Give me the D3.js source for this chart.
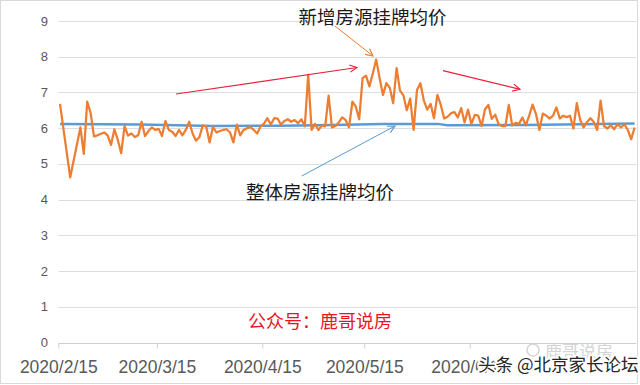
<!DOCTYPE html>
<html>
<head>
<meta charset="utf-8">
<script src="https://cdn.jsdelivr.net/npm/d3@7"></script>
<style>
  html, body { margin: 0; padding: 0; background: #fff; }
  svg { display: block; }
</style>
</head>
<body>
<div id="chart"></div>
<script>
// 新增房源挂牌均价 (daily, 2020)
const newDates = [
    "2/15", "2/18", "2/21", "2/22", "2/23", "2/24", "2/25", "2/26", "2/28", "2/29",
    "3/1", "3/2", "3/3", "3/4", "3/5", "3/6", "3/7", "3/8", "3/9", "3/10",
    "3/11", "3/12", "3/13", "3/14", "3/15", "3/16", "3/17", "3/18", "3/19", "3/20",
    "3/21", "3/22", "3/23", "3/24", "3/25", "3/26", "3/27", "3/28", "3/29", "3/30", "3/31",
    "4/1", "4/2", "4/3", "4/4", "4/5", "4/6", "4/7", "4/8", "4/9", "4/10",
    "4/11", "4/12", "4/13", "4/14", "4/15", "4/16", "4/17", "4/18", "4/19", "4/20",
    "4/21", "4/22", "4/23", "4/24", "4/25", "4/26", "4/27", "4/28", "4/29", "4/30",
    "5/1", "5/2", "5/3", "5/4", "5/5", "5/6", "5/7", "5/8", "5/9", "5/10",
    "5/11", "5/12", "5/13", "5/14", "5/15", "5/16", "5/17", "5/18", "5/19", "5/20",
    "5/21", "5/22", "5/23", "5/24", "5/25", "5/26", "5/27", "5/28", "5/29", "5/30", "5/31",
    "6/1", "6/2", "6/3", "6/4", "6/5", "6/6", "6/7", "6/8", "6/9", "6/10",
    "6/11", "6/12", "6/13", "6/14", "6/15", "6/16", "6/17", "6/18", "6/19", "6/20",
    "6/21", "6/22", "6/23", "6/24", "6/25", "6/26", "6/27", "6/28", "6/29", "6/30",
    "7/1", "7/2", "7/3", "7/4", "7/5", "7/6", "7/7", "7/8", "7/9", "7/10",
    "7/11", "7/12", "7/13", "7/14", "7/15", "7/16", "7/17", "7/18", "7/19", "7/20",
    "7/21", "7/22", "7/23", "7/24", "7/25", "7/26", "7/27", "7/28", "7/29", "7/30", "7/31",
    "8/1", "8/2"
];
const newPrice = [
    6.68, 4.62, 6.02, 5.28, 6.74, 6.43, 5.77, 5.80, 5.88, 5.80,
    5.53, 5.97, 5.67, 5.30, 6.06, 5.79, 5.85, 5.75, 5.80, 6.18,
    5.78, 5.92, 6.02, 5.95, 5.98, 5.78, 6.20, 5.95, 5.90, 5.78,
    5.95, 5.80, 5.95, 6.18, 5.85, 5.65, 5.75, 6.08, 6.05, 5.60, 6.04,
    5.88, 5.92, 5.95, 5.97, 5.88, 5.60, 6.10, 5.80, 5.95, 6.00,
    6.03, 5.95, 5.85, 6.05, 6.13, 6.28, 6.10, 6.28, 6.27, 6.10,
    6.20, 6.25, 6.18, 6.23, 6.14, 6.25, 6.05, 7.49, 5.95, 6.12,
    5.95, 6.07, 6.05, 6.91, 6.02, 6.06, 6.16, 6.30, 6.23, 6.02,
    6.74, 6.60, 6.25, 7.40, 7.47, 7.17, 7.53, 7.92, 7.40, 6.93,
    7.26, 7.13, 6.70, 7.68, 7.05, 6.92, 6.50, 6.83, 5.95, 7.07, 7.26,
    6.78, 6.52, 6.68, 6.28, 6.93, 6.65, 6.27, 6.32, 6.42, 6.45,
    6.30, 6.56, 6.16, 6.52, 6.12, 6.37, 6.35, 6.06, 6.53, 6.65,
    6.26, 6.38, 6.11, 6.06, 6.06, 6.65, 6.08, 6.15, 6.12, 6.30,
    6.08, 6.35, 6.66, 6.39, 5.95, 6.41, 6.35, 6.27, 6.35, 6.58,
    6.27, 6.35, 6.31, 6.35, 5.99, 6.70, 6.23, 6.02, 6.17, 6.28,
    6.17, 5.95, 6.77, 6.06, 5.99, 6.08, 5.97, 6.11, 6.02, 6.11, 5.95,
    5.69, 6.02
];

// 整体房源挂牌均价
const allDates = ["2/15", "3/10", "3/31", "4/20", "5/5", "5/20", "6/5", "6/8", "7/1", "8/2"];
const allPrice = [6.12, 6.10, 6.06, 6.07, 6.09, 6.12, 6.12, 6.08, 6.09, 6.13];

const tickDates = ["2/15", "3/15", "4/15", "5/15", "6/15", "7/15"];
// the 7/15 label sits under the watermark in the original, only its tick shows
const labelledTicks = ["2/15", "3/15", "4/15", "5/15", "6/15"];
const yTicks = [0, 1, 2, 3, 4, 5, 6, 7, 8, 9];

const width = 640, height = 385;
const parseDay = s => d3.timeParse("%Y/%m/%d")("2020/" + s);
// points sit in the middle of their day slot, like an Excel date axis
const mid = s => d3.timeHour.offset(parseDay(s), 12);

const x = d3.scaleTime()
    .domain([parseDay("2/15"), parseDay("8/3")])
    .range([58.3, 636.3]);
const y = d3.scaleLinear().domain([0, 9]).range([342.5, 21]);

const svg = d3.select("#chart").append("svg")
    .attr("width", width)
    .attr("height", height)
    .attr("viewBox", [0, 0, width, height]);

svg.append("rect")
    .attr("x", 0.5).attr("y", 0.5)
    .attr("width", 637).attr("height", 383)
    .attr("fill", "#fff")
    .attr("stroke", "#d9d9d9");

const defs = svg.append("defs");
function marker(id, color) {
    defs.append("marker")
        .attr("id", id)
        .attr("viewBox", "0 0 10 10")
        .attr("refX", 9).attr("refY", 5)
        .attr("markerWidth", 9).attr("markerHeight", 9)
        .attr("markerUnits", "userSpaceOnUse")
        .attr("orient", "auto")
        .append("path")
        .attr("d", "M1,1 L9,5 L1,9")
        .attr("fill", "none")
        .attr("stroke", color)
        .attr("stroke-width", 1.3);
}
marker("arrRed", "#e5243b");
marker("arrOrange", "#ed7d31");
marker("arrBlue", "#5b9bd5");

// grid
svg.append("g")
    .selectAll("line")
    .data(yTicks)
    .join("line")
    .attr("x1", x.range()[0]).attr("x2", x.range()[1])
    .attr("y1", d => Math.round(y(d)) + 0.5)
    .attr("y2", d => Math.round(y(d)) + 0.5)
    .attr("stroke", d => d === 0 ? "#cfcfcf" : "#dedede")
    .attr("stroke-width", 1);

svg.append("g")
    .selectAll("text")
    .data(yTicks)
    .join("text")
    .attr("x", 48)
    .attr("y", d => y(d))
    .attr("dy", "0.35em")
    .attr("text-anchor", "end")
    .attr("font-family", "'Liberation Sans', Arial, sans-serif")
    .attr("font-size", 13)
    .attr("fill", "#595959")
    .text(d => d);

// x axis
const fmt = d3.timeFormat("%Y/%-m/%-d");
const xAxis = svg.append("g")
    .attr("transform", `translate(0,${Math.round(y(0)) + 0.5})`)
    .call(d3.axisBottom(x)
        .tickValues(tickDates.map(parseDay))
        .tickFormat(d => labelledTicks.includes(d3.timeFormat("%-m/%-d")(d)) ? fmt(d) : "")
        .tickSize(5)
        .tickPadding(12));
xAxis.select(".domain").remove();
xAxis.selectAll(".tick line").attr("stroke", "#cfcfcf");
xAxis.selectAll(".tick text")
    .attr("font-family", "'Liberation Sans', Arial, sans-serif")
    .attr("font-size", 17.5)
    .attr("fill", "#595959");

// series
const line = d3.line()
    .x(d => x(mid(d[0])))
    .y(d => y(d[1]));

svg.append("path")
    .datum(d3.zip(allDates, allPrice))
    .attr("fill", "none")
    .attr("stroke", "#5b9bd5")
    .attr("stroke-width", 2.5)
    .attr("d", line);

svg.append("path")
    .datum(d3.zip(newDates, newPrice))
    .attr("fill", "none")
    .attr("stroke", "#ed7d31")
    .attr("stroke-width", 2.25)
    .attr("stroke-linejoin", "round")
    .attr("d", line);

// annotations
const arrows = [
    { x1: 176, y1: 94, x2: 357, y2: 67.5, color: "#e5243b", w: 1.2, m: "arrRed" },
    { x1: 443, y1: 70.7, x2: 520, y2: 89.3, color: "#e5243b", w: 1.2, m: "arrRed" },
    { x1: 335, y1: 26, x2: 373, y2: 56, color: "#ed7d31", w: 1, m: "arrOrange" },
    { x1: 301.7, y1: 176, x2: 395, y2: 126, color: "#5b9bd5", w: 1, m: "arrBlue" }
];
svg.append("g")
    .selectAll("line")
    .data(arrows)
    .join("line")
    .attr("x1", d => d.x1).attr("y1", d => d.y1)
    .attr("x2", d => d.x2).attr("y2", d => d.y2)
    .attr("stroke", d => d.color)
    .attr("stroke-width", d => d.w)
    .attr("marker-end", d => `url(#${d.m})`);

const cjk = "'Noto Sans CJK SC', 'Noto Sans', sans-serif";
const labels = [
    { text: "新增房源挂牌均价", x: 372.5, y: 17, color: "#1a1a1a", size: 18.5 },
    { text: "整体房源挂牌均价", x: 320, y: 192, color: "#1a1a1a", size: 18.5 },
    { text: "公众号：鹿哥说房", x: 320, y: 322, color: "#e8141e", size: 18 }
];
svg.append("g")
    .selectAll("text")
    .data(labels)
    .join("text")
    .attr("x", d => d.x)
    .attr("y", d => d.y)
    .attr("dy", "0.36em")
    .attr("text-anchor", "middle")
    .attr("font-family", cjk)
    .attr("font-size", d => d.size)
    .attr("fill", d => d.color)
    .text(d => d.text);

// watermarks
const wm = svg.append("g");
wm.append("circle")
    .attr("cx", 533).attr("cy", 350).attr("r", 6)
    .attr("fill", "none").attr("stroke", "#d4d4d4").attr("stroke-width", 1.5);
wm.append("text")
    .attr("x", 545).attr("y", 358)
    .attr("font-family", cjk)
    .attr("font-size", 17)
    .attr("fill", "#d4d4d4")
    .text("鹿哥说房");
wm.append("text")
    .attr("x", 478).attr("y", 371)
    .attr("font-family", cjk)
    .attr("font-size", 17.5)
    .attr("fill", "#262626")
    .attr("stroke", "#fff")
    .attr("stroke-width", 3.5)
    .attr("paint-order", "stroke")
    .text("头条 @北京家长论坛");
</script>
</body>
</html>
